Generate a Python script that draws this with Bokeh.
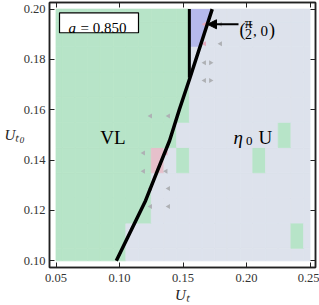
import numpy as np
from bokeh.plotting import figure
from bokeh.models import (Range1d, FixedTicker, LinearAxis, Label, BoxAnnotation,
                          Arrow, NormalHead)
from bokeh.embed import file_html
from bokeh.resources import INLINE

# ---------------- data ----------------
x_centers = [0.05, 0.06, 0.07, 0.08, 0.09, 0.10, 0.11, 0.12, 0.13, 0.14, 0.15,
             0.16, 0.17, 0.18, 0.19, 0.20, 0.21, 0.22, 0.23, 0.24, 0.25]
y_centers = [0.10, 0.11, 0.12, 0.13, 0.14, 0.15, 0.16, 0.17, 0.18, 0.19, 0.20]
# last column (per row) that belongs to the VL region
vl_edge = [0.10, 0.10, 0.12, 0.12, 0.12, 0.14, 0.15, 0.15, 0.15, 0.15, 0.15]
# isolated VL cells inside the U region
vl_extra_x = [0.15, 0.21, 0.23, 0.24]
vl_extra_y = [0.14, 0.14, 0.15, 0.11]
# pink cells
pink_x = [0.13]
pink_y = [0.14]
# blue region: between vertical boundary and the curve, above blue_y0
blue_x0 = 0.155
blue_y0 = 0.185

# boundary curve
curve_x = [0.0975, 0.1087, 0.1205, 0.1299, 0.1394, 0.1472, 0.1555, 0.1643, 0.1730]
curve_y = [0.100, 0.1116, 0.1239, 0.1358, 0.1477, 0.1602, 0.1727, 0.1864, 0.2000]
# vertical boundary
vert_x = [0.155, 0.155]
vert_y = [0.1727, 0.200]

# small direction arrows (vector field)
arr_x = [0.1669, 0.1795, 0.1669, 0.1795, 0.1669, 0.1717, 0.1669, 0.1717,
         0.1244, 0.1386, 0.1189, 0.1366, 0.1189, 0.1366, 0.1244, 0.1386, 0.1244, 0.1386]
arr_y = [0.1940, 0.1940, 0.1862, 0.1862, 0.1787, 0.1787, 0.1716, 0.1716,
         0.1575, 0.1575, 0.1428, 0.1428, 0.1356, 0.1356, 0.1287, 0.1287, 0.1216, 0.1216]
arr_dir = ["L", "L", "L", "L", "L", "R", "L", "R",
           "L", "L", "L", "L", "L", "L", "L", "L", "L", "L"]
arr_col = ["pink", "gray", "pink", "gray", "gray", "gray", "gray", "gray",
           "gray", "gray", "gray", "pink", "gray", "gray", "gray", "gray", "gray", "gray"]

x_ticks = [0.05, 0.10, 0.15, 0.20, 0.25]
x_tick_labels = ["0.05", "0.10", "0.15", "0.20", "0.25"]
y_ticks = [0.10, 0.12, 0.14, 0.16, 0.18, 0.20]
y_tick_labels = ["0.10", "0.12", "0.14", "0.16", "0.18", "0.20"]
x_title = "Uₜ"
y_title = "Uₜ₀"

# ---------------- styles ----------------
C_GREEN = "#b7e4c8"
C_GRAY = "#dde2ec"
C_PINK = "#e6c0cb"
C_BLUE = "#b5b9ec"
SERIF = "Liberation Serif"
FRAME = "#222222"

dx = 0.01
dy = 0.01
xmin, xmax = min(x_centers), max(x_centers)
ymin, ymax = min(y_centers), max(y_centers)


def cell_bounds(xc, yc):
    l = max(xc - dx / 2, xmin)
    r = min(xc + dx / 2, xmax)
    b = max(yc - dy / 2, ymin)
    t = min(yc + dy / 2, ymax)
    return l, r, b, t


L, R, B, T, COL = [], [], [], [], []
for j, yc in enumerate(y_centers):
    for xc in x_centers:
        col = C_GREEN if xc <= vl_edge[j] + 1e-9 else C_GRAY
        for ex, ey in zip(vl_extra_x, vl_extra_y):
            if abs(ex - xc) < 1e-9 and abs(ey - yc) < 1e-9:
                col = C_GREEN
        for px_, py_ in zip(pink_x, pink_y):
            if abs(px_ - xc) < 1e-9 and abs(py_ - yc) < 1e-9:
                col = C_PINK
        l, r, b, t = cell_bounds(xc, yc)
        L.append(l); R.append(r); B.append(b); T.append(t); COL.append(col)

p = figure(width=319, height=305,
           x_range=Range1d(0.04488, 0.25433), y_range=Range1d(0.09734, 0.20262),
           output_backend="svg", toolbar_location=None,
           min_border_left=49, min_border_right=4, min_border_top=2, min_border_bottom=38)
p.grid.visible = False
p.background_fill_color = "white"
p.border_fill_color = "white"
p.outline_line_color = FRAME
p.outline_line_width = 1.5

p.quad(left=L, right=R, bottom=B, top=T, fill_color=COL, line_color=COL, line_width=0.8)

ys_blue = [ymax] + [y for y in sorted(curve_y, reverse=True) if blue_y0 < y < ymax] + [blue_y0]
xs_blue = [float(np.interp(y, curve_y, curve_x)) for y in ys_blue]
p.patch(x=[blue_x0] + xs_blue + [blue_x0], y=[ymax] + ys_blue + [blue_y0],
        fill_color=C_BLUE, line_color=None)

ang = [np.pi / 2 if d == "L" else -np.pi / 2 for d in arr_dir]
cols = ["#e4a9bd" if c == "pink" else "#aeb0b4" for c in arr_col]
p.scatter(arr_x, arr_y, marker="triangle", size=5, angle=ang,
          fill_color=cols, line_color=None)

p.line(curve_x, curve_y, line_color="black", line_width=3.5)
p.line(vert_x, vert_y, line_color="black", line_width=3)

for ax, ticks, labels in ((p.xaxis[0], x_ticks, x_tick_labels), (p.yaxis[0], y_ticks, y_tick_labels)):
    ax.ticker = FixedTicker(ticks=ticks)
    ax.major_label_overrides = {t: s for t, s in zip(ticks, labels)}
    ax.major_label_text_font = SERIF
    ax.major_label_text_font_size = "12.5px"
    ax.major_label_text_color = "#333333"
    ax.major_tick_in = 5
    ax.major_tick_out = 0
    ax.minor_tick_in = 0
    ax.minor_tick_out = 0
    ax.axis_line_color = FRAME
    ax.axis_line_width = 1.5
    ax.major_tick_line_color = FRAME
    ax.major_tick_line_width = 1
    ax.axis_label_text_font = SERIF
    ax.axis_label_text_font_size = "15px"
    ax.axis_label_text_font_style = "italic"
    ax.axis_label_text_color = "#222222"
p.xaxis[0].major_label_standoff = 6
p.yaxis[0].major_label_standoff = 4
p.xaxis[0].axis_label = x_title
p.xaxis[0].axis_label_standoff = 2
p.yaxis[0].axis_label = y_title
p.yaxis[0].axis_label_standoff = -4
try:
    p.yaxis[0].axis_label_orientation = "horizontal"
except Exception:
    pass

for loc, ticks in (("above", x_ticks), ("right", y_ticks)):
    ax = LinearAxis(ticker=FixedTicker(ticks=ticks),
                    major_label_overrides={t: "" for t in ticks},
                    major_label_text_font_size="1px",
                    major_label_standoff=0, major_tick_in=5, major_tick_out=0,
                    minor_tick_in=0, minor_tick_out=0, axis_line_color=FRAME,
                    axis_line_width=1.5, major_tick_line_color=FRAME)
    p.add_layout(ax, loc)


def lab(x, y, text, size, style="normal", align="left", baseline="alphabetic", color="black"):
    p.add_layout(Label(x=x, y=y, text=text, text_font=SERIF, text_font_size=size,
                       text_font_style=style, text_align=align, text_baseline=baseline,
                       text_color=color))


p.add_layout(BoxAnnotation(left=0.05276, right=0.11496, bottom=0.19060, top=0.19853,
                           fill_color="white", fill_alpha=1.0, line_color="black",
                           line_width=1.2, line_alpha=1.0))
lab(0.05984, 0.19258, "a", "15px", style="italic")
lab(0.06929, 0.19258, "= 0.850", "15px")

lab(0.09488, 0.14893, "VL", "19px", align="center")
lab(0.18976, 0.14893, "η", "19px", style="italic")
lab(0.19960, 0.14774, "0", "13px")
lab(0.20940, 0.14893, "U", "19px")

p.add_layout(Arrow(end=NormalHead(size=9, fill_color="black", line_color="black"),
                   x_start=0.19370, y_start=0.19397, x_end=0.16929, y_end=0.19397,
                   line_color="black", line_width=2))
lab(0.19449, 0.19179, "(", "18px")
lab(0.20157, 0.19456, "π", "15px", align="center")
p.segment(x0=[0.19921], y0=[0.19377], x1=[0.20472], y1=[0.19377], line_color="black", line_width=1)
lab(0.20157, 0.19020, "2", "14px", align="center")
lab(0.20512, 0.19139, ", 0", "15px")
lab(0.21772, 0.19179, ")", "18px")

open("out.html", "w").write(file_html(p, INLINE))
